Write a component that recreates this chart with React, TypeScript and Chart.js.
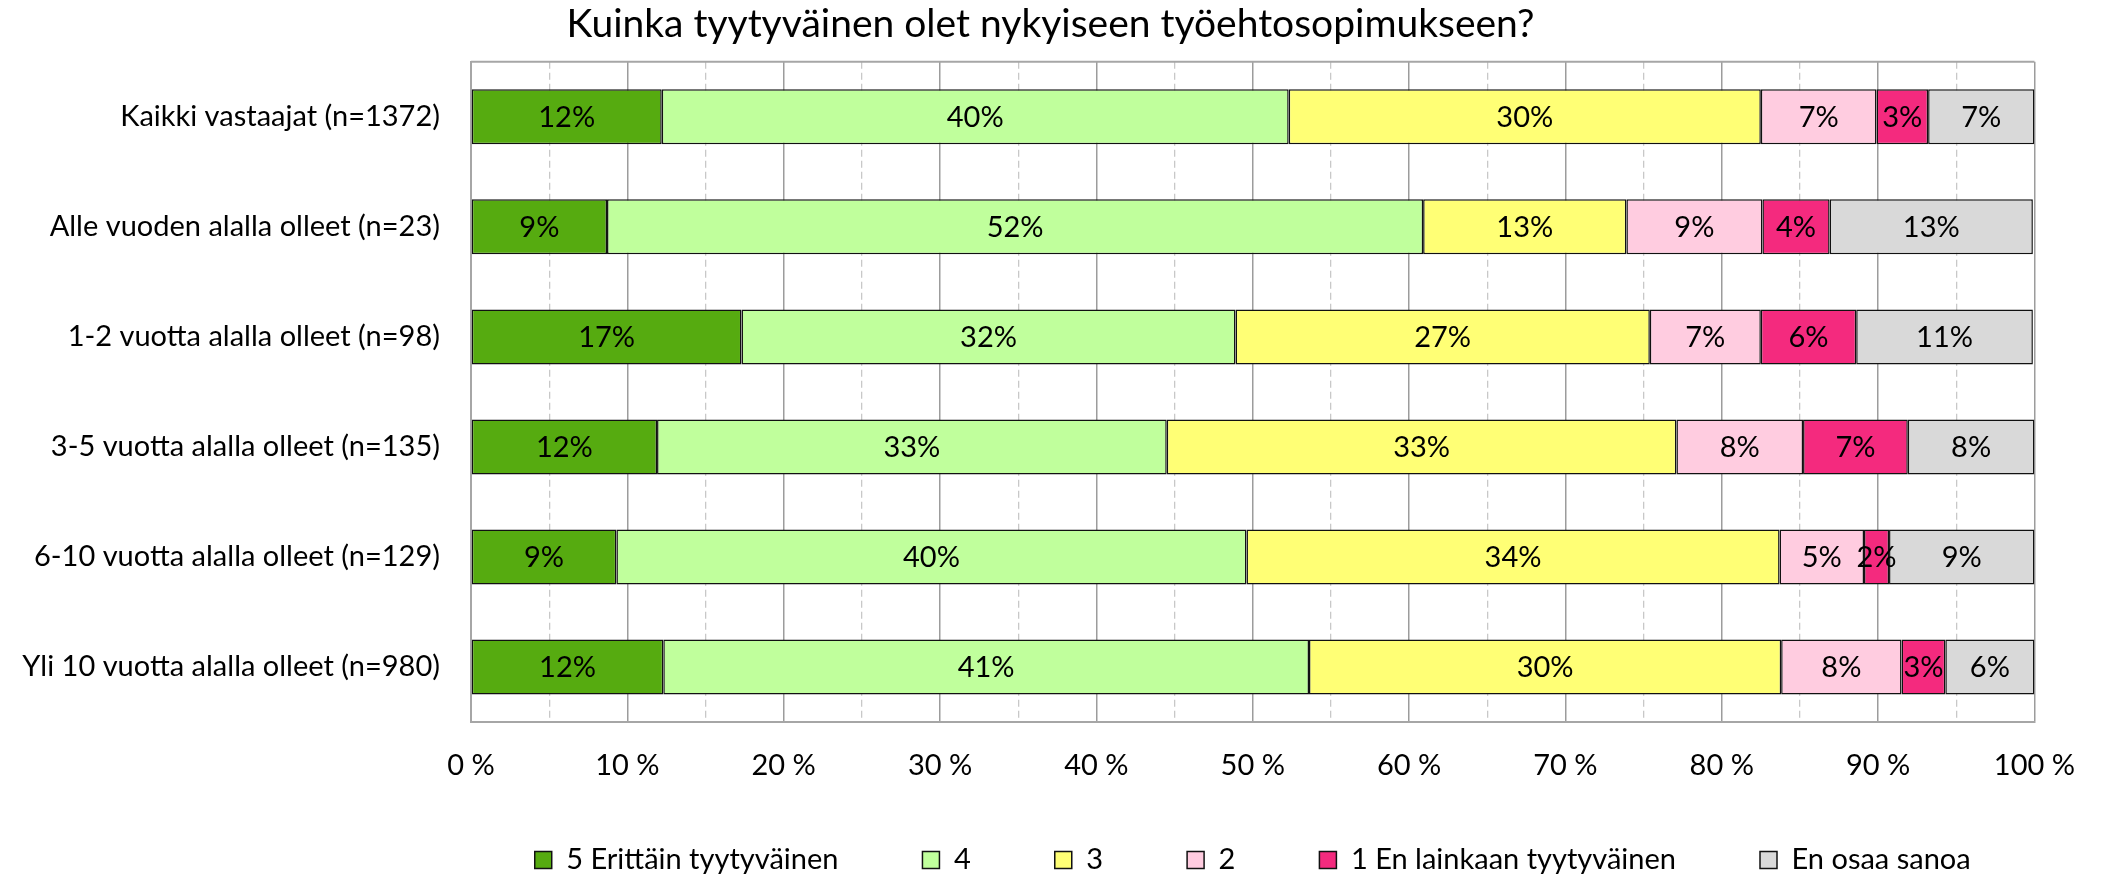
import React, { useEffect, useRef } from 'react';
import { Chart, registerables } from 'chart.js';

Chart.register(...registerables);

const chartTitle = 'Kuinka tyytyväinen olet nykyiseen työehtosopimukseen?';

const categories = [
  'Kaikki vastaajat (n=1372)',
  'Alle vuoden alalla olleet (n=23)',
  '1-2 vuotta alalla olleet (n=98)',
  '3-5 vuotta alalla olleet (n=135)',
  '6-10 vuotta alalla olleet (n=129)',
  'Yli 10 vuotta alalla olleet (n=980)',
];

const seriesNames = ['5 Erittäin tyytyväinen', '4', '3', '2', '1 En lainkaan tyytyväinen', 'En osaa sanoa'];
const seriesColors = ['#56AB10', '#C0FF9C', '#FFFF75', '#FFCCE0', '#F42A7E', '#D9D9D9'];

const s5 = [12.2, 8.7, 17.3, 11.9, 9.3, 12.3];
const s4 = [40.1, 52.2, 31.6, 32.6, 40.3, 41.3];
const s3 = [30.2, 13.0, 26.5, 32.6, 34.1, 30.2];
const s2 = [7.4, 8.7, 7.1, 8.1, 5.4, 7.7];
const s1 = [3.3, 4.3, 6.1, 6.7, 1.6, 2.8];
const sEos = [6.8, 13.0, 11.3, 8.1, 9.3, 5.7];

const xTickValues = [0, 10, 20, 30, 40, 50, 60, 70, 80, 90, 100];
const xTickLabels = ['0 %', '10 %', '20 %', '30 %', '40 %', '50 %', '60 %', '70 %', '80 %', '90 %', '100 %'];

const FONT = 'Lato';
const FS = 29;
const W = 2101;
const H = 874;
const LEGEND_PAD = 84;
const LEGEND_ITEM_Y = 845.5;

const barLabels = {
  id: 'barLabels',
  afterDatasetsDraw(chart: any) {
    const ctx = chart.ctx;
    ctx.save();
    ctx.font = `${FS}px ${FONT}`;
    ctx.fillStyle = '#000';
    ctx.textAlign = 'center';
    ctx.textBaseline = 'middle';
    chart.data.datasets.forEach((ds: any, di: number) => {
      const meta = chart.getDatasetMeta(di);
      meta.data.forEach((el: any, i: number) => {
        const v = ds.data[i] as number;
        ctx.fillText(Math.round(v) + '%', (el.x + el.base) / 2, el.y + 1);
      });
    });
    ctx.restore();
  },
};

const frameTop = {
  id: 'frameTop',
  beforeDatasetsDraw(chart: any) {
    const { ctx, chartArea } = chart;
    ctx.save();
    ctx.strokeStyle = '#A6A6A6';
    ctx.lineWidth = 2;
    ctx.beginPath();
    ctx.moveTo(chartArea.left, chartArea.top);
    ctx.lineTo(chartArea.right, chartArea.top);
    ctx.stroke();
    ctx.restore();
  },
};

const legendShift = {
  id: 'legendShift',
  afterLayout(chart: any) {
    const lg = chart.legend;
    if (!lg) return;
    const ca = chart.chartArea;
    const cx = (ca.left + ca.right) / 2;
    const w = lg.right - lg.left;
    lg.left = cx - w / 2;
    lg.right = cx + w / 2;
    lg.top = LEGEND_ITEM_Y - LEGEND_PAD;
    lg.bottom = H + 60;
  },
};

export default function App() {
  const ref = useRef<HTMLCanvasElement | null>(null);

  useEffect(() => {
    if (!ref.current) return;
    const seriesData = [s5, s4, s3, s2, s1, sEos];
    const chart = new Chart(ref.current, {
      type: 'bar',
      data: {
        labels: categories,
        datasets: seriesNames.map((name, i) => ({
          label: name,
          data: seriesData[i],
          backgroundColor: seriesColors[i],
          borderColor: '#111111',
          borderWidth: 1.5,
          borderSkipped: false,
          barPercentage: 0.5,
          categoryPercentage: 1,
        })),
      },
      options: {
        indexAxis: 'y',
        responsive: true,
        maintainAspectRatio: false,
        animation: false,
        layout: { padding: 0 },
        scales: {
          x: {
            stacked: true,
            min: 0,
            max: 100,
            afterFit: (s: any) => {
              s.height = 63;
            },
            ticks: {
              stepSize: 5,
              autoSkip: false,
              maxRotation: 0,
              padding: 26,
              color: '#000',
              font: { family: FONT, size: FS },
              callback: (v: any) => {
                const i = xTickValues.indexOf(Number(v));
                return i >= 0 ? xTickLabels[i] : '';
              },
            },
            grid: {
              drawTicks: false,
              color: (c: any) => (c.tick && c.tick.value % 10 === 0 ? '#9C9C9C' : '#C8C8C8'),
              lineWidth: (c: any) => (c.tick && c.tick.value % 10 === 0 ? 1.5 : 1.3),
            },
            border: {
              display: true,
              color: '#A6A6A6',
              width: 2,
              dash: (c: any) => (c.tick && c.tick.value % 10 !== 0 ? [7, 4] : []),
            },
          },
          y: {
            stacked: true,
            afterFit: (s: any) => {
              s.width = 471;
            },
            ticks: {
              padding: 31,
              color: '#000',
              font: { family: FONT, size: FS },
            },
            grid: { display: false, drawTicks: false },
            border: { display: true, color: '#A6A6A6', width: 2 },
          },
          yR: {
            type: 'linear',
            position: 'right',
            display: true,
            afterFit: (s: any) => {
              s.width = 65;
            },
            ticks: { display: false },
            grid: { display: false, drawTicks: false },
            border: { display: false },
          },
        },
        plugins: {
          title: {
            display: true,
            text: chartTitle,
            color: '#000',
            font: { family: FONT, size: 39, weight: 'normal' },
            padding: { top: 1, bottom: 14 },
          },
          legend: {
            display: true,
            position: 'bottom',
            maxHeight: 89,
            labels: {
              boxWidth: 17,
              boxHeight: 17,
              padding: LEGEND_PAD,
              color: '#000',
              font: { family: FONT, size: FS },
            },
          },
          tooltip: { enabled: false },
        },
      },
      plugins: [barLabels, frameTop, legendShift],
    });
    return () => chart.destroy();
  }, []);

  return (
    <div style={{ position: 'absolute', left: 0, top: 0, width: W, height: H, background: '#fff' }}>
      <canvas ref={ref} />
    </div>
  );
}
